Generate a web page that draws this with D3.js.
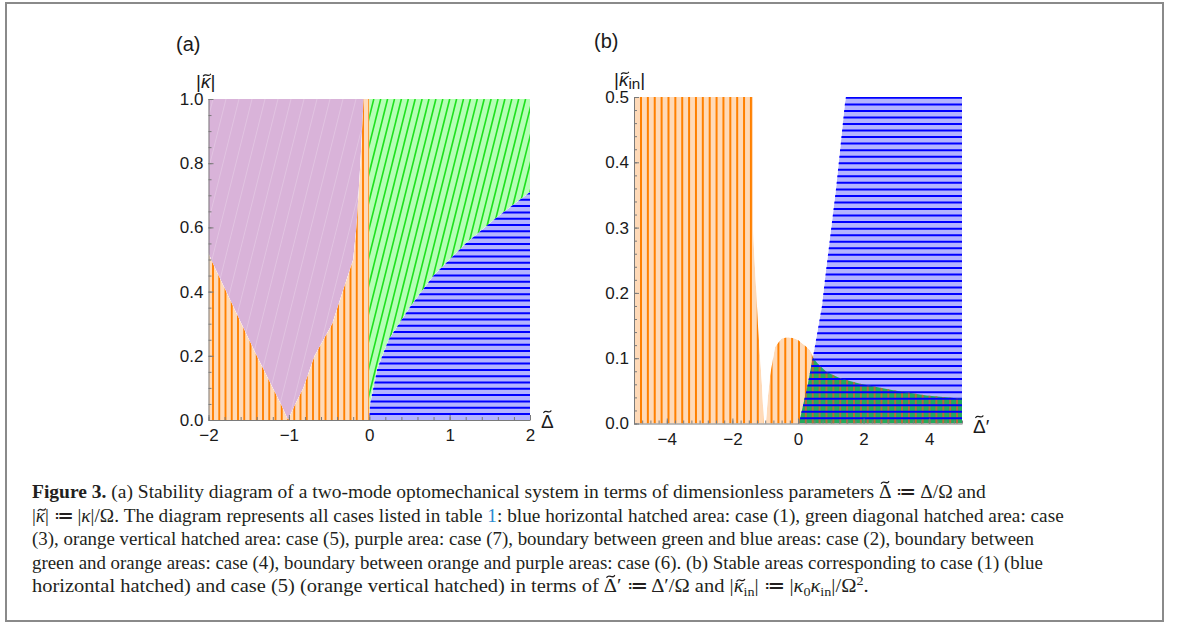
<!DOCTYPE html>
<html>
<head>
<meta charset="utf-8">
<script src="https://cdn.jsdelivr.net/npm/d3@7"></script>
<style>
  body { margin: 0; background: #fff; }
  svg { display: block; }
</style>
</head>
<body>
<svg id="fig" width="1179" height="624"></svg>
<script>
// panel (a): region boundaries, as [Δ̃, |κ̃|]
var purpleLeftA = [[-2, 0.52], [-1.95, 0.49], [-1.78, 0.4], [-1.59, 0.3], [-1.4, 0.2], [-1.2, 0.1], [-1.1, 0.05], [-1.01, 0]];
var purpleRightA = [[-1.01, 0], [-0.92, 0.05], [-0.82, 0.1], [-0.68, 0.2], [-0.46, 0.3], [-0.33, 0.4], [-0.2, 0.5], [-0.16, 0.6], [-0.11, 0.8], [-0.07, 1]];
var blueEdgeA = [[0, 0], [0.01, 0.05], [0.1, 0.16], [0.24, 0.25], [0.5, 0.35], [0.8, 0.45], [1.2, 0.55], [1.58, 0.63], [2, 0.71]];
var xTicksA = [-2, -1, 0, 1, 2];
var yTicksA = [0, 0.2, 0.4, 0.6, 0.8, 1.0];

// panel (b): [Δ̃', |κ̃_in|]
var orangeLeftB = [[-5, 0], [-5, 0.5], [-1.37, 0.5], [-1.37, 0.3], [-1.34, 0.265], [-1.27, 0.2], [-1.22, 0.15], [-1.1, 0.06], [-1.04, 0]];
var orangeLobeB = [[-0.98, 0], [-0.92, 0.04], [-0.85, 0.074], [-0.7, 0.117], [-0.5, 0.13], [-0.3, 0.132], [-0.1, 0.13], [0, 0.128],
  [0.2, 0.12], [0.37, 0.112], [0.47, 0.1], [0.6, 0.092], [0.87, 0.079], [1.3, 0.069], [1.89, 0.061], [2.9, 0.051], [3.92, 0.043], [5, 0.038], [5, 0]];
var blueEdgeB = [[0.03, 0], [0.3, 0.06], [0.52, 0.12], [0.73, 0.18], [0.82, 0.22], [1.16, 0.36], [1.43, 0.49], [1.46, 0.5]];
var xTicksB = [-4, -2, 0, 2, 4];
var yTicksB = [0, 0.1, 0.2, 0.3, 0.4, 0.5];

// caption, one array of [text, style] pieces per line ("t" = tilde over it, "ti" = italic with tilde)
var caption = [
  [["Figure 3.", "b"], [" (a) Stability diagram of a two-mode optomechanical system in terms of dimensionless parameters ", ""], ["Δ", "t"], [" ≔ Δ/Ω and", ""]],
  [["|", ""], ["κ", "ti"], ["| ≔ |", ""], ["κ", "i"], ["|/Ω. The diagram represents all cases listed in table ", ""], ["1", "link"], [": blue horizontal hatched area: case (1), green diagonal hatched area: case", ""]],
  [["(3), orange vertical hatched area: case (5), purple area: case (7), boundary between green and blue areas: case (2), boundary between", ""]],
  [["green and orange areas: case (4), boundary between orange and purple areas: case (6). (b) Stable areas corresponding to case (1) (blue", ""]],
  [["horizontal hatched) and case (5) (orange vertical hatched) in terms of ", ""], ["Δ", "t"], ["′ ≔ Δ′/Ω and |", ""], ["κ", "ti"], ["in", "sub"], ["| ≔ |", ""],
   ["κ", "i"], ["0", "sub"], ["κ", "i"], ["in", "sub"], ["|/Ω", ""], ["2", "sup"], [".", ""]]
];
var captionEnds = [985, 1065, 1035, 1043, 870];

var PEACH = "#ffdab8", ORANGE = "#ff8000", PURPLE = "#d9b3d9", LGREEN = "#b5ffb5", GREEN = "#1ee01e",
    LBLUE = "#b4b4ff", BLUE = "#0000ff", MIXGREEN = "#24a95e", MIXLINE = "#b8693c", AXIS = "#7a7a7a";
var SANS = "'Liberation Sans', Arial, sans-serif";
var SERIF = "'Liberation Serif', 'Times New Roman', serif";

var svg = d3.select("#fig");
var defs = svg.append("defs");

svg.append("rect").attr("x", 6).attr("y", 3).attr("width", 1157).attr("height", 618)
  .attr("fill", "none").attr("stroke", "#8a8a8a").attr("stroke-width", 2);

function polyPath(pts, x, y) {
  return d3.line().x(d => x(d[0])).y(d => y(d[1]))(pts) + "Z";
}

function addClip(id, d) {
  defs.append("clipPath").attr("id", id).append("path").attr("d", d);
}

function vLines(g, xs, y0, y1, color, w) {
  g.selectAll(null).data(xs).enter().append("line")
    .attr("x1", d => d).attr("x2", d => d).attr("y1", y0).attr("y2", y1)
    .attr("stroke", color).attr("stroke-width", w);
}

function hLines(g, ys, x0, x1, color, w) {
  g.selectAll(null).data(ys).enter().append("line")
    .attr("x1", x0).attr("x2", x1).attr("y1", d => d).attr("y2", d => d)
    .attr("stroke", color).attr("stroke-width", w);
}

function axes(x, y, xt, yt, xMinor, yMinor, fx, fy) {
  var bottom = y.range()[0], left = x.range()[0];
  var gxm = svg.append("g").attr("transform", "translate(0," + bottom + ")")
    .call(d3.axisBottom(x).tickValues(xMinor).tickSizeInner(-3).tickSizeOuter(0).tickFormat(""));
  gxm.select(".domain").remove();
  var gym = svg.append("g").attr("transform", "translate(" + left + ",0)")
    .call(d3.axisLeft(y).tickValues(yMinor).tickSizeInner(-3).tickSizeOuter(0).tickFormat(""));
  gym.select(".domain").remove();
  var gx = svg.append("g").attr("transform", "translate(0," + bottom + ")")
    .call(d3.axisBottom(x).tickValues(xt).tickSizeInner(-5).tickSizeOuter(0).tickPadding(9).tickFormat(fx));
  var gy = svg.append("g").attr("transform", "translate(" + left + ",0)")
    .call(d3.axisLeft(y).tickValues(yt).tickSizeInner(-5).tickSizeOuter(0).tickPadding(5).tickFormat(fy));
  [gxm, gym, gx, gy].forEach(function(g) {
    g.selectAll("line, path").attr("stroke", AXIS).attr("stroke-width", 1);
    g.selectAll("text").attr("font-family", SANS).attr("font-size", 17).attr("fill", "#1a1a1a");
  });
}

// small drawn tilde over one character of a text element
function tilde(parent, textNode, idx, baseline, fs, lift, italic, color) {
  var e = textNode.getExtentOfChar(idx);
  var cx = e.x + e.width / 2 + (italic ? 0.07 * fs : 0);
  var cy = baseline - lift * fs;
  var w = 0.38 * fs, h = 0.09 * fs;
  parent.append("path")
    .attr("d", "M" + (cx - w / 2) + "," + (cy + h / 2) + " C" + (cx - w / 6) + "," + (cy - 1.6 * h) + " " +
      (cx + w / 6) + "," + (cy + 1.6 * h) + " " + (cx + w / 2) + "," + (cy - h / 2))
    .attr("fill", "none").attr("stroke", color).attr("stroke-width", 0.065 * fs).attr("stroke-linecap", "round");
}

// rich text: pieces of [text, style]; returns the text element
function rich(parent, x, y, fs, family, color, parts, subDy, supDy, subFs) {
  var t = parent.append("text").attr("x", x).attr("y", y).attr("font-family", family)
    .attr("font-size", fs).attr("fill", color);
  var shift = 0, idx = 0, marks = [];
  parts.forEach(function(p) {
    var s = t.append("tspan").text(p[0]);
    var want = p[1] === "sub" ? subDy : p[1] === "sup" ? supDy : 0;
    if (want !== shift) { s.attr("dy", want - shift); shift = want; }
    if (p[1] === "b") s.attr("font-weight", "bold");
    if (p[1] === "i" || p[1] === "ti") s.attr("font-style", "italic");
    if (p[1] === "link") s.attr("fill", "#2b8bd0");
    if (p[1] === "sub" || p[1] === "sup") s.attr("font-size", subFs);
    if (p[1] === "t" || p[1] === "ti") marks.push([idx, p[1] === "ti", p[0] === "Δ" ? "cap" : "x"]);
    idx += p[0].length;
  });
  return { node: t.node(), marks: marks };
}

// ---------------- panel (a)
var xA = d3.scaleLinear().domain([-2, 2]).range([208.5, 530]);
var yA = d3.scaleLinear().domain([0, 1]).range([420, 99]);

var orangeA = [[-2, 0]].concat(purpleLeftA, purpleRightA.slice(1), [[0, 1], [0, 0]]);
var purpleA = [[-2, 1]].concat(purpleLeftA, purpleRightA.slice(1));
var greenA = [[0, 0], [0, 1], [2, 1]].concat(blueEdgeA.slice().reverse());
var blueA = blueEdgeA.concat([[2, 0]]);

addClip("clipOrangeA", polyPath(orangeA, xA, yA));
addClip("clipPurpleA", polyPath(purpleA, xA, yA));
addClip("clipGreenA", polyPath(greenA, xA, yA));
addClip("clipBlueA", polyPath(blueA, xA, yA));

var pa = svg.append("g");
var gOA = pa.append("g").attr("clip-path", "url(#clipOrangeA)");
gOA.append("path").attr("d", polyPath(orangeA, xA, yA)).attr("fill", PEACH);
vLines(gOA, d3.range(213, 370, 6.25), 420, 99, ORANGE, 1.9);

var gPA = pa.append("g").attr("clip-path", "url(#clipPurpleA)");
gPA.append("path").attr("d", polyPath(purpleA, xA, yA)).attr("fill", PURPLE);
gPA.selectAll(null).data(d3.range(120, 380, 13)).enter().append("line")
  .attr("x1", d => d).attr("y1", 420).attr("x2", d => d + 80).attr("y2", 99)
  .attr("stroke", "#fff").attr("stroke-opacity", 0.22).attr("stroke-width", 1);

var gGA = pa.append("g").attr("clip-path", "url(#clipGreenA)");
gGA.append("path").attr("d", polyPath(greenA, xA, yA)).attr("fill", LGREEN);
gGA.selectAll(null).data(d3.range(280, 545, 6.9)).enter().append("line")
  .attr("x1", d => d).attr("y1", 420).attr("x2", d => d + 80).attr("y2", 99)
  .attr("stroke", GREEN).attr("stroke-width", 1.6);

var gBA = pa.append("g").attr("clip-path", "url(#clipBlueA)");
gBA.append("path").attr("d", polyPath(blueA, xA, yA)).attr("fill", LBLUE);
hLines(gBA, d3.range(414, 99, -6.3), 208, 531, BLUE, 2);

axes(xA, yA, xTicksA, yTicksA, d3.range(-2, 2.001, 0.2), d3.range(0, 1.001, 0.05), d3.format("d"), d3.format(".1f"));

// ---------------- panel (b)
var xB = d3.scaleLinear().domain([-5, 5]).range([634, 962]);
var yB = d3.scaleLinear().domain([0, 0.5]).range([423.5, 97]);

var orangeB = polyPath(orangeLeftB, xB, yB) + polyPath(orangeLobeB, xB, yB);
var blueB = blueEdgeB.concat([[5, 0.5], [5, 0]]);
addClip("clipOrangeB", orangeB);
addClip("clipBlueB", polyPath(blueB, xB, yB));

var pb = svg.append("g");
var vxB = d3.range(641, 963, 6.87);
var hyB = d3.range(418.3, 97, -6.54);

var gOB = pb.append("g").attr("clip-path", "url(#clipOrangeB)");
gOB.append("path").attr("d", orangeB).attr("fill", PEACH);
vLines(gOB, vxB, 423.5, 97, ORANGE, 2);

var gBB = pb.append("g").attr("clip-path", "url(#clipBlueB)");
gBB.append("path").attr("d", polyPath(blueB, xB, yB)).attr("fill", LBLUE);
hLines(gBB, hyB, 634, 963, BLUE, 2);

// overlap of both stable areas
var gMix = pb.append("g").attr("clip-path", "url(#clipOrangeB)")
  .append("g").attr("clip-path", "url(#clipBlueB)");
gMix.append("rect").attr("x", 634).attr("y", 97).attr("width", 328).attr("height", 326.5).attr("fill", MIXGREEN);
vLines(gMix, vxB, 423.5, 97, MIXLINE, 2);
hLines(gMix, hyB, 634, 963, BLUE, 2);

axes(xB, yB, xTicksB, yTicksB, d3.range(-5, 5.001, 0.25), d3.range(0, 0.501, 0.02), d3.format("d"), d3.format(".1f"));

// ---------------- labels
function label(x, y, fs, parts) {
  var r = rich(svg, x, y, fs, SANS, "#1a1a1a", parts, 3, -6, fs * 0.8);
  r.marks.forEach(function(m) {
    tilde(svg, r.node, m[0], y, fs, m[2] === "cap" ? 0.86 : 0.68, m[1], "#1a1a1a");
  });
}
label(176, 51, 20, [["(a)", ""]]);
label(594, 48, 20, [["(b)", ""]]);
label(196, 88, 19, [["|", ""], ["κ", "ti"], ["|", ""]]);
label(541, 428, 19, [["Δ", "t"]]);
label(614, 86, 19, [["|", ""], ["κ", "ti"], ["in", "sub"], ["|", ""]]);
label(973, 433, 19, [["Δ", "t"], ["′", ""]]);

// ---------------- caption
var capBase = [498, 521.5, 545, 568.5, 592];
caption.forEach(function(line, i) {
  var g = svg.append("g");
  var r = rich(g, 0, 0, 19.5, SERIF, "#231f20", line, 4, -7, 13.5);
  r.marks.forEach(function(m) {
    tilde(g, r.node, m[0], 0, 19.5, m[2] === "cap" ? 0.8 : 0.6, m[1], "#231f20");
  });
  var w = r.node.getComputedTextLength();
  var sx = (captionEnds[i] - 32) / w;
  g.attr("transform", "translate(32," + capBase[i] + ") scale(" + sx + ",1)");
});
</script>
</body>
</html>
